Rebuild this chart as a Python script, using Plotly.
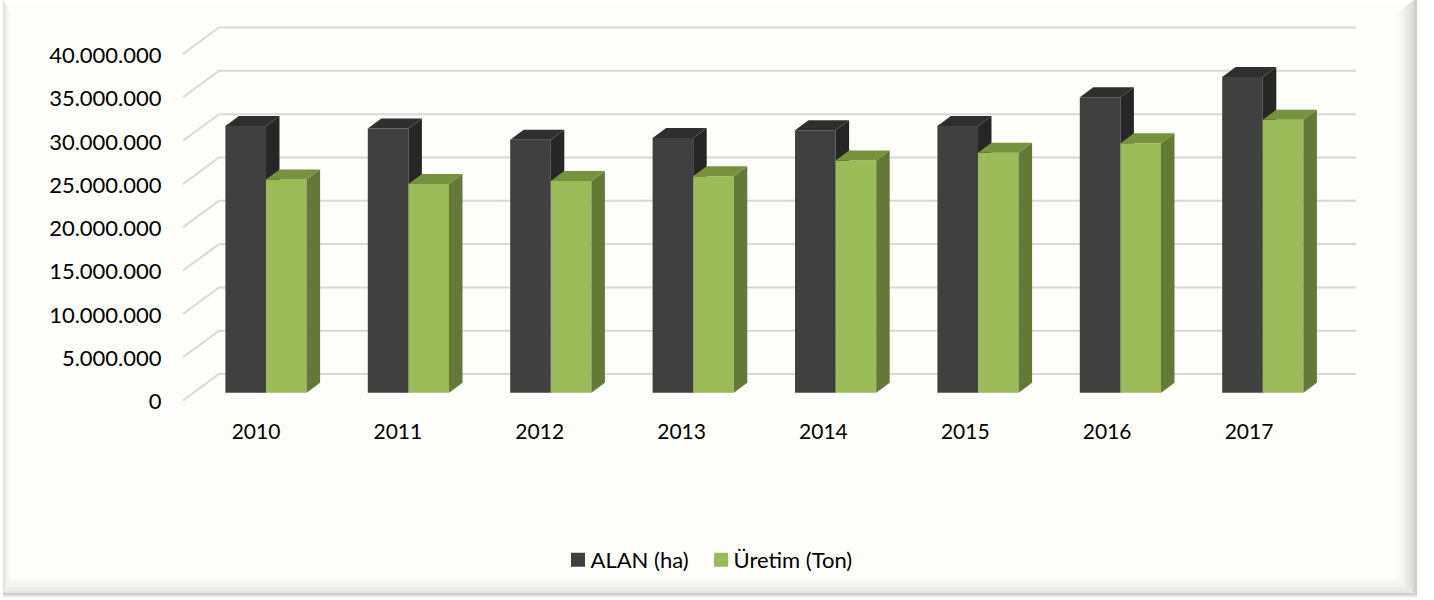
import plotly.graph_objects as go

years = ["2010", "2011", "2012", "2013", "2014", "2015", "2016", "2017"]
alan_ha = [30800000, 30500000, 29200000, 29400000, 30300000, 30800000, 34100000, 36450000]
uretim_ton = [24600000, 24100000, 24450000, 25000000, 26800000, 27700000, 28800000, 31500000]
tick_values = [0, 5000000, 10000000, 15000000, 20000000, 25000000, 30000000, 35000000, 40000000]
tick_labels = ["0", "5.000.000", "10.000.000", "15.000.000", "20.000.000", "25.000.000",
               "30.000.000", "35.000.000", "40.000.000"]

W, H = 1434, 600
PL, PR, PT, PB = 183, 1358, 10, 410
PX_PER_UNIT = 346.5 / 40e6
FONT = "Lato"
TEXT = "#000000"
PAPER = "#FDFEF9"

xs = list(range(len(years)))


def xrange_for(px0, step):
    return [(PL - px0) / step, (PR - px0) / step]


def yrange_for(zero_px):
    return [-(PB - zero_px) / PX_PER_UNIT, (zero_px - PT) / PX_PER_UNIT]


LABEL_X0, LABEL_STEP = 256, 141.86
BAR_X0, BAR_STEP = 266, 142.4
TICK_ZERO, BAR_ZERO = 401.7, 392.7
FRONT_ZERO = 400.5
BACK_ZERO = 374
BAR_W = 40.6 / BAR_STEP
DX = 13.5 / BAR_STEP
DV = 10 / PX_PER_UNIT

fig = go.Figure()

# wall grid lines, drawn on the tick plane
back_left = (219 - LABEL_X0) / LABEL_STEP
right_end = (1356 - LABEL_X0) / LABEL_STEP
front_left = (PL - LABEL_X0) / LABEL_STEP
wall_shift = (TICK_ZERO - BACK_ZERO) / PX_PER_UNIT
front_shift = (TICK_ZERO - FRONT_ZERO) / PX_PER_UNIT
gx, gy = [], []
for v in tick_values:
    gx += [front_left, back_left, right_end, None]
    gy += [v + front_shift, v + wall_shift, v + wall_shift, None]
fig.add_trace(go.Scatter(x=gx, y=gy, mode="lines", line=dict(color="#D9D9D9", width=2),
                         hoverinfo="skip", showlegend=False, xaxis="x", yaxis="y"))
# invisible carrier so the category axis draws its labels
fig.add_trace(go.Scatter(x=xs, y=[0] * len(xs), mode="markers", marker=dict(opacity=0),
                         hoverinfo="skip", showlegend=False, xaxis="x", yaxis="y"))


def add_series(name, values, offset, front, side, top, xa, ya):
    fig.add_trace(go.Bar(name=name, x=xs, y=values, width=BAR_W, offset=offset,
                         marker=dict(color=front, line=dict(width=0)),
                         xaxis=xa, yaxis=ya, showlegend=True))
    sx, sy, tx, ty = [], [], [], []
    for i, v in zip(xs, values):
        l = i + offset
        r = l + BAR_W
        sx += [r, r + DX, r + DX, r, r, None]
        sy += [0, DV, v + DV, v, 0, None]
        tx += [l, l + DX, r + DX, r, l, None]
        ty += [v, v + DV, v + DV, v, v, None]
    for px, py, c in ((sx, sy, side), (tx, ty, top)):
        fig.add_trace(go.Scatter(x=px, y=py, mode="lines", fill="toself", fillcolor=c,
                                 line=dict(width=0, color=c), hoverinfo="skip",
                                 showlegend=False, xaxis=xa, yaxis=ya))


add_series("ALAN (ha)", alan_ha, -BAR_W, "#404040", "#262626", "#2F2F2F", "x2", "y2")
add_series("Üretim (Ton)", uretim_ton, 0, "#9BBB59", "#647838", "#76923C", "x3", "y3")

# picture frame
shapes = []


def mix(t, a, b):
    return "rgb(%d,%d,%d)" % tuple(round(a[i] + (b[i] - a[i]) * t) for i in range(3))


def poly(points, color):
    d = "M" + " L".join(f"{(x - PL) / (PR - PL):.5f},{(PB - y) / (PB - PT):.5f}" for x, y in points) + " Z"
    shapes.append(dict(type="path", xref="paper", yref="paper", path=d, fillcolor=color,
                       line=dict(width=0), layer="below"))


OUT = dict(l=3, r=1414, t=0, b=593)
IN = dict(l=12, r=1394, t=15, b=575)
poly([(3, 0), (1417, 0), (1417, 597), (3, 597)], PAPER)
paper_rgb = (253, 254, 249)
STEPS = 14
for k in range(STEPS):
    t0 = k / STEPS
    t1 = (k + 1) / STEPS
    f = lambda s, t: OUT[s] + (IN[s] - OUT[s]) * t
    q = (1 - t0) ** 1.6
    poly([(f("l", t0), f("t", t0)), (f("r", t0), f("t", t0)), (f("r", t1), f("t", t1)), (f("l", t1), f("t", t1))],
         mix(q, paper_rgb, (255, 255, 255)))
    poly([(f("r", t0), f("t", t0)), (f("r", t0), f("b", t0)), (f("r", t1), f("b", t1)), (f("r", t1), f("t", t1))],
         mix(q, paper_rgb, (214, 214, 210)))
    poly([(f("l", t0), f("b", t0)), (f("r", t0), f("b", t0)), (f("r", t1), f("b", t1)), (f("l", t1), f("b", t1))],
         mix(q, paper_rgb, (226, 226, 222)))
    poly([(f("l", t0), f("t", t0)), (f("l", t0), f("b", t0)), (f("l", t1), f("b", t1)), (f("l", t1), f("t", t1))],
         mix(q, paper_rgb, (214, 214, 210)))
poly([(1414, 0), (1417, 0), (1417, 597), (1414, 597)], "#CFCFCF")
poly([(3, 593), (1417, 593), (1417, 595), (3, 595)], "#CFCFCF")
poly([(3, 595), (1417, 595), (1417, 597), (3, 597)], "#E6E6E6")

hidden = dict(visible=False, fixedrange=True)
fig.update_layout(
    width=W, height=H, autosize=False,
    margin=dict(l=PL, r=W - PR, t=PT, b=H - PB, pad=0),
    paper_bgcolor="#FFFFFF", plot_bgcolor="rgba(0,0,0,0)",
    barmode="overlay", shapes=shapes,
    font=dict(family=FONT, size=20, color=TEXT),
    xaxis=dict(range=xrange_for(LABEL_X0, LABEL_STEP), tickmode="array", tickvals=xs, ticktext=years,
               showgrid=False, zeroline=False, showline=False, ticks="outside", ticklen=3,
               tickcolor="rgba(0,0,0,0)", tickfont=dict(family=FONT, size=21, color=TEXT)),
    yaxis=dict(range=yrange_for(TICK_ZERO), tickmode="array", tickvals=tick_values, ticktext=tick_labels,
               showgrid=False, zeroline=False, showline=False, ticks="outside", ticklen=16,
               tickcolor="rgba(0,0,0,0)", tickfont=dict(family=FONT, size=22, color=TEXT)),
    xaxis2=dict(range=xrange_for(BAR_X0, BAR_STEP), overlaying="x", anchor="y2", **hidden),
    yaxis2=dict(range=yrange_for(BAR_ZERO), overlaying="y", anchor="x2", **hidden),
    xaxis3=dict(range=xrange_for(BAR_X0, BAR_STEP), overlaying="x", anchor="y3", **hidden),
    yaxis3=dict(range=yrange_for(BAR_ZERO), overlaying="y", anchor="x3", **hidden),
    legend=dict(orientation="h", x=(704 - PL) / (PR - PL), xanchor="center",
                y=(PB - 560) / (PB - PT), yanchor="middle", bgcolor="rgba(0,0,0,0)",
                font=dict(family=FONT, size=22, color=TEXT), traceorder="normal",
                itemclick=False, itemdoubleclick=False),
)

# legend swatches sit close to their labels and are slightly larger in the reference
post = """
document.body.style.margin='0';
document.querySelectorAll('.legend .traces path').forEach(function(p){
  p.setAttribute('transform', (p.getAttribute('transform')||'') + ' translate(7.5,0) scale(1.17)');
});
"""
fig.write_html("out.html", post_script=post, config={"displayModeBar": False})
